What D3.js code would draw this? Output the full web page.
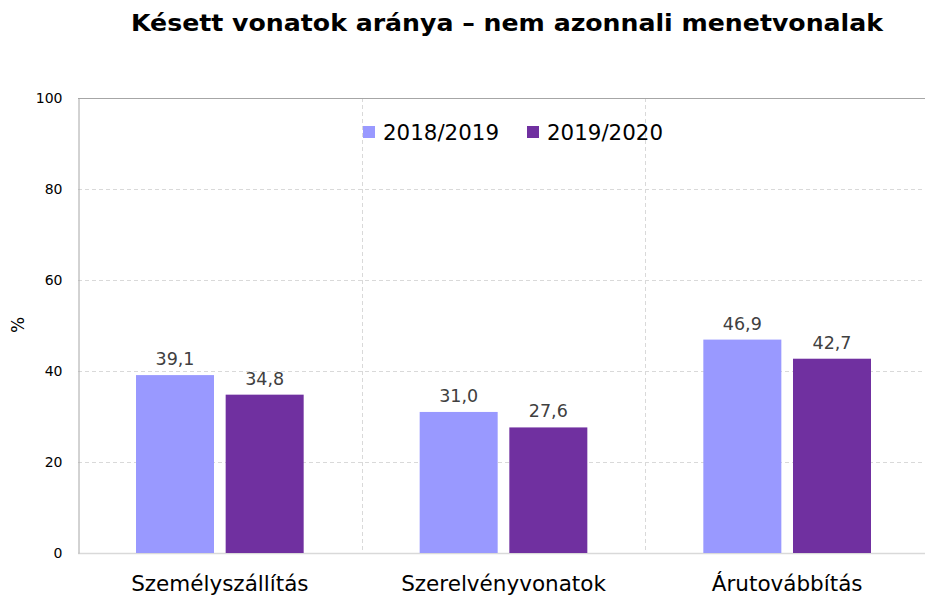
<!DOCTYPE html>
<html><head><meta charset="utf-8">
<script src="https://cdn.jsdelivr.net/npm/d3@7"></script>
<style>body{margin:0;background:#fff}svg{display:block}</style>
</head><body>
<svg id="c" width="925" height="600"></svg>
<script>
const categories = ["Személyszállítás", "Szerelvényvonatok", "Árutovábbítás"];
const seriesNames = ["2018/2019", "2019/2020"];
const values2018 = [39.1, 31.0, 46.9];
const values2019 = [34.8, 27.6, 42.7];
const yTicks = [0, 20, 40, 60, 80, 100];
const colors = ["#9999ff", "#7030a0"];
const title = "Késett vonatok aránya – nem azonnali menetvonalak";
const yTitle = "%";

(function () {
const svg = d3.select("#c");
const pLeft = 78, pRight = 929, pTop = 98, pBottom = 553;
const x0 = d3.scaleBand().domain(categories).range([pLeft, pRight]).padding(0);
const bw = x0.bandwidth();
const x1 = d3.scaleBand().domain(seriesNames).range([58, bw - 58]).paddingInner(0.13);
const y = d3.scaleLinear().domain([0, 100]).range([pBottom, pTop]);
const fmt = v => d3.format(".1f")(v).replace(".", ",");
const font = "'DejaVu Sans', Verdana, sans-serif";

// horizontal grid
svg.append("g").selectAll("line").data(yTicks.filter(t => t > 0 && t < 100)).join("line")
  .attr("x1", pLeft).attr("x2", pRight).attr("y1", d => y(d) + 0.5).attr("y2", d => y(d) + 0.5)
  .attr("stroke", "#d9d9d9").attr("stroke-dasharray", "4,3");
// vertical category separators
svg.append("g").selectAll("line").data(categories.slice(1)).join("line")
  .attr("x1", d => Math.round(x0(d)) + 0.5).attr("x2", d => Math.round(x0(d)) + 0.5)
  .attr("y1", pTop).attr("y2", pBottom)
  .attr("stroke", "#d9d9d9").attr("stroke-dasharray", "4,3");
// top border
svg.append("line").attr("x1", pLeft).attr("x2", pRight).attr("y1", y(100) + 0.5).attr("y2", y(100) + 0.5)
  .attr("stroke", "#a6a6a6");
// bottom axis
svg.append("line").attr("x1", pLeft).attr("x2", pRight).attr("y1", y(0) + 0.5).attr("y2", y(0) + 0.5)
  .attr("stroke", "#d9d9d9").attr("stroke-width", 1.5);

// bars
const rows = categories.map((c, i) => ({c, vals: [values2018[i], values2019[i]]}));
const groups = svg.append("g").selectAll("g").data(rows).join("g")
  .attr("transform", d => `translate(${x0(d.c)},0)`);
groups.selectAll("rect").data(d => d.vals.map((v, j) => ({v, s: seriesNames[j], j}))).join("rect")
  .attr("x", d => x1(d.s)).attr("width", x1.bandwidth())
  .attr("y", d => y(d.v)).attr("height", d => y(0) - y(d.v))
  .attr("fill", d => colors[d.j]);
groups.selectAll("text").data(d => d.vals.map((v, j) => ({v, s: seriesNames[j], j}))).join("text")
  .attr("x", d => x1(d.s) + x1.bandwidth() / 2).attr("y", d => y(d.v) - 10)
  .attr("text-anchor", "middle").attr("font-family", font).attr("font-size", 17.5)
  .attr("fill", "#404040").text(d => fmt(d.v));

// left axis
const yAxis = d3.axisLeft(y).tickValues(yTicks).tickSize(0).tickPadding(16);
const ga = svg.append("g").attr("transform", `translate(${pLeft + 0.5},0)`).call(yAxis);
ga.select(".domain").attr("stroke", "#a6a6a6");
ga.selectAll("text").attr("font-family", font).attr("font-size", 14).attr("fill", "#000");

// x labels
const xAxis = d3.axisBottom(x0).tickSize(0).tickPadding(23);
const gx = svg.append("g").attr("transform", `translate(0,${pBottom})`).call(xAxis);
gx.select(".domain").remove();
gx.selectAll("text").attr("font-family", font).attr("font-size", 21.5).attr("fill", "#000");

// y title
svg.append("text").attr("transform", "translate(24,325) rotate(-90)")
  .attr("text-anchor", "middle").attr("font-family", font).attr("font-size", 17).text(yTitle);

// title
svg.append("text").attr("x", 507).attr("y", 31).attr("text-anchor", "middle")
  .attr("font-family", font).attr("font-weight", "bold").attr("font-size", 23)
  .attr("textLength", 752).attr("lengthAdjust", "spacingAndGlyphs").text(title);

// legend
const legX = [363, 527];
const lg = svg.append("g").selectAll("g").data(seriesNames).join("g")
  .attr("transform", (d, i) => `translate(${legX[i]},126)`);
lg.append("rect").attr("width", 12).attr("height", 12).attr("fill", (d, i) => colors[i]);
lg.append("text").attr("x", 20).attr("y", 13.5).attr("font-family", font).attr("font-size", 21)
  .attr("textLength", 116).attr("lengthAdjust", "spacingAndGlyphs").text(d => d);
})();
</script>
</body></html>
